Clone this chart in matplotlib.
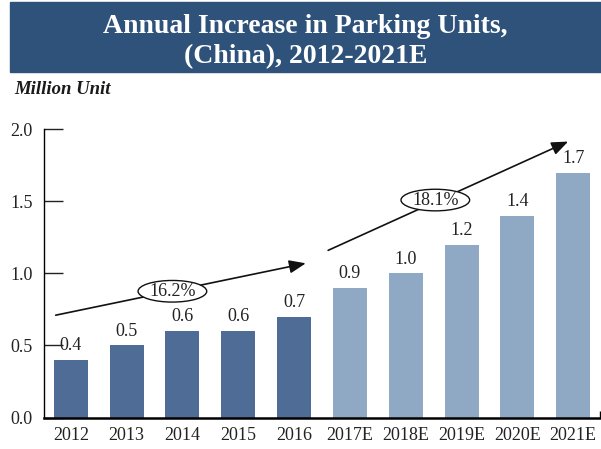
import numpy as np
import matplotlib
matplotlib.use("Agg")
import matplotlib.pyplot as plt
from matplotlib.patches import Rectangle, Ellipse

plt.rcParams['font.family'] = ['Liberation Serif', 'DejaVu Serif']

years = ['2012', '2013', '2014', '2015', '2016', '2017E', '2018E', '2019E', '2020E', '2021E']
units = [0.4, 0.5, 0.6, 0.6, 0.7, 0.9, 1.0, 1.2, 1.4, 1.7]
labels = ['0.4', '0.5', '0.6', '0.6', '0.7', '0.9', '1.0', '1.2', '1.4', '1.7']
n_actual = 5  # first five are actual, rest forecast

# CAGR arrows: (x0, y0, x1, y1) in data coords, ellipse centre, text
cagr_text = ['16.2%', '18.1%']
cagr_arrows = [(-0.27, 0.71, 4.21, 1.07), (4.61, 1.16, 8.91, 1.915)]
cagr_boxes = [(1.82, 0.876), (6.53, 1.509)]

dark = '#4f6c96'
light = '#8fa8c4'
banner = '#2e527a'

fig = plt.figure(figsize=(6.01, 4.49), dpi=100)

# title banner
fig.patches.append(Rectangle((10 / 601, 1 - 72 / 449), 591 / 601, 70 / 449,
                             transform=fig.transFigure, color=banner, zorder=0))
fig.text(305.5 / 601, 1 - 33 / 449, 'Annual Increase in Parking Units,',
         ha='center', va='baseline', color='white', fontsize=20, fontweight='bold')
fig.text(305.5 / 601, 1 - 63 / 449, '(China), 2012-2021E',
         ha='center', va='baseline', color='white', fontsize=20, fontweight='bold')
fig.text(14 / 601, 1 - 89 / 449, 'Million Unit', ha='left', va='center',
         fontsize=13.5, fontweight='bold', fontstyle='italic', color='#1a1a1a')

ax = fig.add_axes([44 / 601, 31.5 / 449, 556 / 601, 288.2 / 449])
x = np.arange(len(years))
colors = [dark] * n_actual + [light] * (len(years) - n_actual)
bars = ax.bar(x, units, width=0.61, color=colors, zorder=2)
for xi, v, lab in zip(x, units, labels):
    ax.annotate(lab, (xi, v), xytext=(0, 4), textcoords='offset points',
                ha='center', va='bottom', fontsize=13, color='#222222')

ax.set_xlim(-0.48, 9.48)
ax.set_ylim(0, 2.0)
ax.set_yticks([0, 0.5, 1.0, 1.5, 2.0])
ax.set_yticklabels(['0.0', '0.5', '1.0', '1.5', '2.0'])
ax.set_xticks(x)
ax.set_xticklabels(years)
ax.tick_params(axis='y', direction='in', length=14, width=1, pad=8,
               labelsize=13, colors='#222222')
ax.tick_params(axis='x', length=0, pad=7, labelsize=13, colors='#222222')
ax.set_xticks([9.48], minor=True)
ax.tick_params(axis='x', which='minor', direction='in', length=5, width=1)

for s in ['top', 'right']:
    ax.spines[s].set_visible(False)
ax.spines['left'].set_linewidth(1.0)
ax.spines['bottom'].set_linewidth(1.8)

for (x0, y0, x1, y1), (cx, cy), t in zip(cagr_arrows, cagr_boxes, cagr_text):
    ax.annotate('', xy=(x1, y1), xytext=(x0, y0),
                arrowprops=dict(arrowstyle='-|>,head_length=1.0,head_width=0.4',
                                color='#111111', lw=1.2, shrinkA=0, shrinkB=0),
                zorder=3, annotation_clip=False)
    ax.add_patch(Ellipse((cx, cy), 1.23, 0.15, facecolor='white', edgecolor='#111111',
                         lw=1.0, zorder=4))
    ax.text(cx, cy, t, ha='center', va='center', fontsize=13, color='#222222', zorder=5)

fig.savefig('out.png', dpi=100)
